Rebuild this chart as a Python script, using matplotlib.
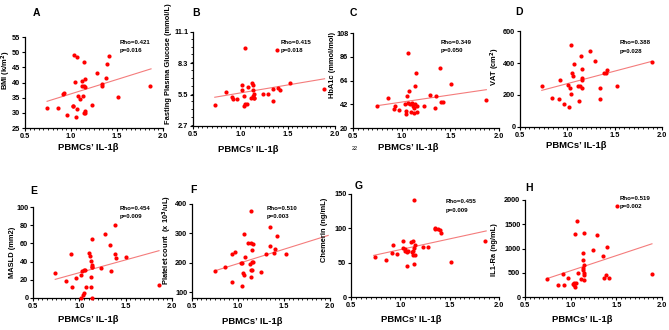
import numpy as np
import matplotlib
matplotlib.use('Agg')
import matplotlib.pyplot as plt
from matplotlib.ticker import MultipleLocator

plt.rcParams['font.family'] = ['Liberation Sans', 'DejaVu Sans']
plt.rcParams['font.weight'] = 'bold'

W, H = 669, 330

# ---- data ----
x_a = [0.74, 0.86, 0.91, 0.92, 0.96, 1.02, 1.02, 1.03, 1.04, 1.05, 1.06, 1.07, 1.08, 1.10, 1.12, 1.12, 1.13,
       1.14, 1.14, 1.14, 1.15, 1.15, 1.15, 1.15, 1.23, 1.28, 1.34, 1.34, 1.38, 1.39, 1.41, 1.51, 1.86]
bmi = [31.5, 31.5, 36.3, 36.5, 29.3, 32.4, 32.1, 49.1, 40.2, 28.7, 31.3, 48.4, 35.4, 34.4, 40.4, 38.9, 35.7,
       38.7, 29.9, 46.9, 30.1, 30.5, 41.1, 38.5, 32.7, 43.0, 39.4, 38.7, 41.4, 46.2, 48.9, 35.1, 38.9]

x_b = [0.73, 0.85, 0.91, 0.92, 0.96, 1.02, 1.02, 1.04, 1.04, 1.05, 1.05, 1.07, 1.08, 1.11, 1.12, 1.13, 1.13,
       1.13, 1.14, 1.14, 1.14, 1.24, 1.29, 1.35, 1.35, 1.39, 1.40, 1.42, 1.52, 1.88]
fpg = [4.6, 5.7, 5.3, 5.1, 5.15, 6.4, 5.9, 4.5, 5.35, 9.7, 4.65, 4.7, 6.2, 5.2, 6.5, 6.4, 5.95,
       5.35, 5.2, 5.6, 5.2, 5.55, 5.55, 6.0, 4.9, 9.5, 6.1, 5.95, 6.5, 6.0]

x_c = [0.75, 0.86, 0.93, 0.92, 0.97, 1.03, 1.04, 1.04, 1.05, 1.07, 1.07, 1.08, 1.09, 1.10, 1.11, 1.12, 1.13,
       1.13, 1.14, 1.14, 1.15, 1.16, 1.16, 1.29, 1.23, 1.34, 1.35, 1.39, 1.40, 1.42, 1.51, 1.87]
hba1c = [40.7, 47.5, 40.7, 37.6, 36.4, 41.9, 33.3, 35.4, 49.3, 89.8, 43.1, 54.3, 42.5, 35.1, 43.1, 40.1, 34.2,
         38.5, 58.6, 42.5, 70.9, 34.5, 40.1, 50.9, 40.7, 38.8, 49.6, 75.2, 44.1, 44.1, 61.0, 46.2]

x_d = [0.73, 0.84, 0.92, 0.91, 0.96, 1.02, 1.01, 1.03, 1.04, 1.04, 1.05, 1.06, 1.07, 1.11, 1.12, 1.13, 1.14,
       1.15, 1.15, 1.15, 1.15, 1.24, 1.29, 1.35, 1.35, 1.39, 1.41, 1.42, 1.52, 1.89]
vat = [256, 181, 292, 177, 146, 125, 260, 246, 515, 208, 338, 321, 396, 254, 163, 254, 446,
       292, 308, 362, 246, 475, 415, 246, 177, 338, 338, 358, 256, 404]

x_e = [0.74, 0.86, 0.91, 0.92, 0.96, 1.02, 1.02, 1.03, 1.04, 1.05, 1.05, 1.06, 1.07, 1.10, 1.12, 1.13, 1.13,
       1.13, 1.14, 1.14, 1.14, 1.14, 1.14, 1.23, 1.28, 1.33, 1.34, 1.38, 1.39, 1.40, 1.50, 1.86]
masld = [27.8, 18.7, 48.7, 11.7, 22.0, 24.9, 0.0, 29.3, 2.9, 5.9, 30.8, 30.8, 11.7, 49.8, 46.2, 12.1, 40.7,
         23.1, 35.9, 33.7, 0.0, 65.2, 34.4, 33.0, 70.7, 58.6, 30.0, 80.6, 48.0, 44.3, 45.0, 13.9]

x_f = [0.75, 0.86, 0.93, 0.93, 0.97, 1.03, 1.04, 1.04, 1.05, 1.06, 1.07, 1.08, 1.11, 1.13, 1.14, 1.14, 1.14,
       1.14, 1.15, 1.15, 1.15, 1.16, 1.16, 1.25, 1.30, 1.35, 1.35, 1.39, 1.40, 1.42, 1.52]
platelet = [172, 187, 231, 134, 235, 198, 120, 200, 164, 159, 298, 218, 268, 195, 175, 266, 152,
            375, 244, 204, 175, 202, 264, 170, 229, 322, 258, 233, 248, 292, 229]

x_g = [0.74, 0.85, 0.93, 0.92, 0.97, 1.03, 1.03, 1.05, 1.05, 1.07, 1.07, 1.08, 1.11, 1.12, 1.13, 1.13, 1.13,
       1.14, 1.14, 1.15, 1.15, 1.14, 1.23, 1.28, 1.35, 1.35, 1.38, 1.40, 1.41, 1.51, 1.86]
chemerin = [57.6, 54.2, 75.7, 64, 62, 82, 71.8, 70, 67, 45.4, 65, 67, 79.6, 65, 61, 81.6, 67,
            141, 47.4, 75.7, 61, 71.8, 72.8, 72.3, 101, 99.7, 99.7, 97.7, 93.8, 51.3, 81.6]

x_h = [0.74, 0.86, 0.92, 0.93, 0.97, 1.03, 1.04, 1.04, 1.05, 1.05, 1.06, 1.07, 1.08, 1.11, 1.13, 1.13, 1.14,
       1.14, 1.15, 1.15, 1.15, 1.15, 1.15, 1.24, 1.29, 1.35, 1.36, 1.39, 1.40, 1.42, 1.51, 1.89]
il1ra = [365, 255, 469, 255, 393, 276, 297, 255, 207, 1297, 283, 1572, 503, 379, 766, 566, 600,
         903, 655, 1310, 490, 448, 345, 972, 1276, 855, 393, 462, 1021, 393, 1883, 469]

# regression line ends (x0, x1), (y0, y1)
fit_x = {'A': (0.74, 1.87), 'B': (0.73, 1.89), 'C': (0.75, 1.87), 'D': (0.73, 1.89),
         'E': (0.74, 1.86), 'F': (0.75, 1.98), 'G': (0.73, 1.87), 'H': (0.74, 1.89)}
fit_y = {'A': (33.8, 44.5), 'B': (5.27, 6.92), 'C': (40.7, 55.5), 'D': (229, 410),
         'E': (20.5, 52), 'F': (172.7, 293), 'G': (60.6, 96.2), 'H': (379, 1097)}

stats = {'A': ('Rho=0.421', 'p=0.016'), 'B': ('Rho=0.415', 'p=0.018'), 'C': ('Rho=0.349', 'p=0.050'),
         'D': ('Rho=0.388', 'p=0.028'), 'E': ('Rho=0.454', 'p=0.009'), 'F': ('Rho=0.510', 'p=0.003'),
         'G': ('Rho=0.455', 'p=0.009'), 'H': ('Rho=0.519', 'p=0.002')}

ylabels = {'A': 'BMI (k/m$^2$)', 'B': 'Fasting Plasma Glucose (mmol/L)', 'C': 'HbA1c (mmol/mol)',
           'D': 'VAT (cm$^2$)', 'E': 'MASLD (mm2)', 'F': 'Platelet count  (x 10$^3$/uL)',
           'G': 'Chemerin (ng/mL)', 'H': 'IL1-Ra (ng/mL)'}

yticks = {'A': [25, 30, 35, 40, 45, 50, 55], 'B': [2.7, 5.5, 8.3, 11.1], 'C': [20, 42, 64, 86, 108],
          'D': [0, 200, 400, 600], 'E': [0, 20, 40, 60, 80, 100], 'F': [100, 200, 300, 400],
          'G': [0, 50, 100, 150], 'H': [0, 500, 1000, 1500, 2000]}
ylims = {'A': (25, 55), 'B': (2.7, 11.1), 'C': (20, 108), 'D': (0, 600), 'E': (0, 100),
         'F': (80, 400), 'G': (0, 150), 'H': (0, 2000)}

data = {'A': (x_a, bmi), 'B': (x_b, fpg), 'C': (x_c, hba1c), 'D': (x_d, vat),
        'E': (x_e, masld), 'F': (x_f, platelet), 'G': (x_g, chemerin), 'H': (x_h, il1ra)}

# layout in pixels: left, right, top, bottom of the plotting box
boxes = {'A': (25, 163, 37, 128), 'B': (193, 335, 32, 126), 'C': (353, 499, 33, 128),
         'D': (520, 662, 31, 127), 'E': (33, 172, 207, 298), 'F': (192, 330, 204, 298),
         'G': (351, 499, 194, 297), 'H': (525, 662, 200, 297)}
letter_pos = {'A': (33, 13), 'B': (192, 13), 'C': (350, 13), 'D': (515, 12),
              'E': (30, 191), 'F': (190, 190), 'G': (355, 186), 'H': (525, 188)}
xlab_pos = {'A': (88, 147), 'B': (248, 150), 'C': (408, 148), 'D': (576, 146),
            'E': (88, 320), 'F': (252, 322), 'G': (411, 319), 'H': (582, 320)}
ylab_pos = {'A': (6.5, 70), 'B': (168, 64), 'C': (333, 65), 'D': (495, 67),
            'E': (13, 252), 'F': (167, 240), 'G': (324, 230), 'H': (495, 250)}
stat_pos = {'A': (120, 42), 'B': (281, 42), 'C': (441, 42), 'D': (620, 43),
            'E': (120, 208), 'F': (267, 208), 'G': (446, 202), 'H': (620, 198)}

fig = plt.figure(figsize=(W / 100, H / 100), dpi=100)
fig.patch.set_facecolor('white')


def fx(px):
    return px / W


def fy(py):
    return 1 - py / H


for k in 'ABCDEFGH':
    l, r, t, b = boxes[k]
    ax = fig.add_axes([fx(l), fy(b), (r - l) / W, (b - t) / H])
    x, y = data[k]
    ax.scatter(x, y, s=9, color='#ff0000', linewidths=0, zorder=3, clip_on=False)
    ax.plot(fit_x[k], fit_y[k], color='#f47c7c', lw=0.8, zorder=2)
    ax.set_xlim(0.5, 2.0)
    ax.set_ylim(*ylims[k])
    ax.set_xticks([0.5, 1.0, 1.5, 2.0])
    ax.set_xticklabels(['0.5', '1.0', '1.5', '2.0'])
    ax.xaxis.set_minor_locator(MultipleLocator(0.05))
    ax.set_yticks(yticks[k])
    if k == 'B':
        ax.yaxis.set_minor_locator(MultipleLocator(0.7))
    for s in ['top', 'right']:
        ax.spines[s].set_visible(False)
    for s in ['left', 'bottom']:
        ax.spines[s].set_linewidth(0.9)
    ax.tick_params(axis='both', which='major', length=2.2, width=0.8, labelsize=5.3, pad=1.2)
    ax.tick_params(axis='both', which='minor', length=1.2, width=0.6)
    ax.patch.set_visible(False)

    fig.text(fx(letter_pos[k][0]), fy(letter_pos[k][1]), k, fontsize=7.5, fontweight='bold',
             ha='left', va='center')
    fig.text(fx(xlab_pos[k][0]), fy(xlab_pos[k][1]), "PBMCs\u2019 IL-1\u03b2", fontsize=6.8,
             fontweight='bold', ha='center', va='center')
    fig.text(fx(ylab_pos[k][0]), fy(ylab_pos[k][1]), ylabels[k], fontsize=5.4, fontweight='bold',
             rotation=90, ha='center', va='center')
    sx, sy = stat_pos[k]
    fig.text(fx(sx), fy(sy), stats[k][0], fontsize=4.4, fontweight='bold', ha='left', va='center')
    fig.text(fx(sx), fy(sy + 8.5), stats[k][1], fontsize=4.4, fontweight='bold', ha='left', va='center')

fig.text(fx(355), fy(148), '22', fontsize=4, fontweight='normal', ha='center', va='center')

fig.savefig('out.png', dpi=100)
